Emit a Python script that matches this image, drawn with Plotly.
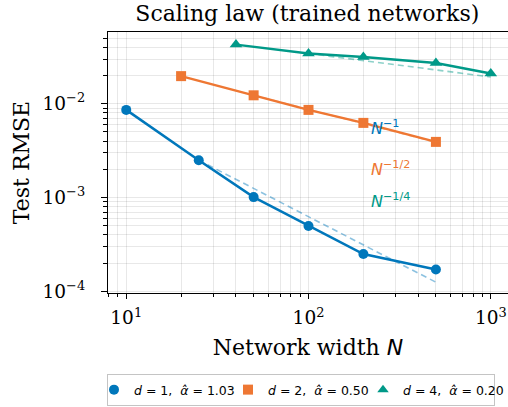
import plotly.graph_objects as go

# ---- data ----
N_d1 = [10, 25, 50, 100, 200, 500]
rmse_d1 = [8.6e-3, 2.5e-3, 1.01e-3, 4.98e-4, 2.5e-4, 1.71e-4]
N_d2 = [20, 50, 100, 200, 500]
rmse_d2 = [1.97e-2, 1.23e-2, 8.6e-3, 6.25e-3, 3.92e-3]
N_d4 = [40, 100, 200, 500, 1000]
rmse_d4 = [4.27e-2, 3.43e-2, 3.16e-2, 2.72e-2, 2.10e-2]

# reference power-law guide lines (endpoints)
ref_N_d1 = [25, 500]
ref_y_d1 = [2.5e-3, 1.25e-4]
ref_N_d2 = [50, 500]
ref_y_d2 = [1.23e-2, 3.89e-3]
ref_N_d4 = [100, 1000]
ref_y_d4 = [3.43e-2, 1.93e-2]

NB = "\u00a0"
legend_labels = [f"<i>d</i>{NB}={NB}1,{NB}{NB}<i>α̂</i>{NB}={NB}1.03",
                 f"<i>d</i>{NB}={NB}2,{NB}{NB}<i>α̂</i>{NB}={NB}0.50",
                 f"<i>d</i>{NB}={NB}4,{NB}{NB}<i>α̂</i>{NB}={NB}0.20"]
slope_labels = ["<i>N</i><sup>−1</sup>", "<i>N</i><sup>−1/2</sup>", "<i>N</i><sup>−1/4</sup>"]

x_tickvals = [10, 100, 1000]
x_ticktext = ["10<sup>1</sup>", "10<sup>2</sup>", "10<sup>3</sup>"]
y_tickvals = [1e-4, 1e-3, 1e-2]
y_ticktext = ["10<sup>−4</sup>", "10<sup>−3</sup>", "10<sup>−2</sup>"]

colors = ["#0077BB", "#EE7733", "#009988"]
faded = ["rgba(0,119,187,0.45)", "rgba(238,119,51,0.45)", "rgba(0,153,136,0.45)"]
symbols = ["circle", "square", "triangle-up"]

series = [(N_d1, rmse_d1, ref_N_d1, ref_y_d1),
          (N_d2, rmse_d2, ref_N_d2, ref_y_d2),
          (N_d4, rmse_d4, ref_N_d4, ref_y_d4)]

# figure geometry (pixels)
W, H = 508, 407
L, R, T, B = 108, 0, 32, 114
PW, PH = W - L - R, H - T - B


def fx(p):
    return (p - L) / PW


def fy(p):
    return (H - B - p) / PH


fig = go.Figure()
for i, (xs, ys, rx, ry) in enumerate(series):
    fig.add_trace(go.Scatter(x=rx, y=ry, mode="lines",
                             line=dict(color=faded[i], width=1.6, dash="6px,4px"),
                             showlegend=False, hoverinfo="skip"))
for i, (xs, ys, rx, ry) in enumerate(series):
    fig.add_trace(go.Scatter(x=xs, y=ys, mode="lines+markers",
                             line=dict(color=colors[i], width=2.5),
                             marker=dict(symbol=symbols[i], size=10 if i < 2 else 11,
                                         color=colors[i]),
                             showlegend=False))
legend_keys = ["legend", "legend2", "legend3"]
for i in range(3):
    fig.add_trace(go.Scatter(x=[None], y=[None], mode="markers",
                             marker=dict(symbol=symbols[i], size=10, color=colors[i]),
                             name=legend_labels[i], showlegend=True,
                             legend=legend_keys[i]))

ypos = [0.635, 0.478, 0.355]
for i in range(3):
    fig.add_annotation(x=0.6525, y=ypos[i], xref="paper", yref="paper",
                       xanchor="left", yanchor="middle", showarrow=False,
                       text=slope_labels[i],
                       font=dict(family="DejaVu Sans", size=16, color=colors[i]))

marker_centers = [112, 248, 383]
legend_common = dict(orientation="h", xanchor="left", yanchor="middle",
                     y=fy(390), bgcolor="rgba(0,0,0,0)", borderwidth=0,
                     font=dict(family="DejaVu Sans", size=12.5, color="black"),
                     itemwidth=30)
legends = {k: dict(x=fx(c - 20), **legend_common)
           for k, c in zip(legend_keys, marker_centers)}
# first legend carries the frame spanning the whole legend row
legends["legend"].update(x=fx(107), borderwidth=1, bordercolor="#c4c4c4",
                         indentation=-14, entrywidth=355, entrywidthmode="pixels")

minor_x = [m * 10 ** e for e in range(0, 4) for m in range(2, 10)]
minor_y = [m * 10.0 ** e for e in range(-5, -1) for m in range(2, 10)]

grid = "rgba(0,0,0,0.09)"
fig.update_layout(
    width=W, height=H,
    margin=dict(l=L, r=R, t=T, b=B, autoexpand=False),
    paper_bgcolor="white", plot_bgcolor="white",
    font=dict(family="DejaVu Serif", color="black"),
    title=dict(text="Scaling law (trained networks)", x=0.605, xanchor="center",
               y=1 - 13 / H, yanchor="middle",
               font=dict(family="DejaVu Serif", size=22, color="black")),
    showlegend=True,
    **legends,
)
fig.update_xaxes(type="log", range=[0.9, 3.0945], automargin=False,
                 tickvals=x_tickvals, ticktext=x_ticktext,
                 tickfont=dict(family="DejaVu Serif", size=18.5),
                 ticks="outside", ticklen=5, tickwidth=1, tickcolor="black",
                 ticklabelstandoff=3,
                 showline=True, linecolor="black", linewidth=1.2, mirror=True,
                 showgrid=True, gridcolor=grid, gridwidth=1,
                 zeroline=False,
                 minor=dict(tickvals=minor_x, ticks="outside", ticklen=3,
                            tickcolor="black", showgrid=True, gridcolor=grid, gridwidth=1),
                 title=dict(text='Network width <span style="font-family:DejaVu Sans"><i>N</i></span>',
                            font=dict(family="DejaVu Serif", size=22), standoff=12))
fig.update_yaxes(type="log", range=[-4.018, -1.235], automargin=False,
                 tickvals=y_tickvals, ticktext=y_ticktext,
                 tickfont=dict(family="DejaVu Serif", size=18.5),
                 ticks="outside", ticklen=6, tickwidth=1, tickcolor="black",
                 ticklabelstandoff=12,
                 showline=True, linecolor="black", linewidth=1.2, mirror=False,
                 showgrid=True, gridcolor=grid, gridwidth=1,
                 zeroline=False,
                 minor=dict(tickvals=minor_y, ticks="outside", ticklen=3.5,
                            tickcolor="black", showgrid=True, gridcolor=grid, gridwidth=1),
                 title=dict(text="Test RMSE", font=dict(family="DejaVu Serif", size=22),
                            standoff=6))

fig.write_html("out.html", config={"displayModeBar": False},
               post_script="document.body.style.margin='0';document.body.style.overflow='hidden';")
